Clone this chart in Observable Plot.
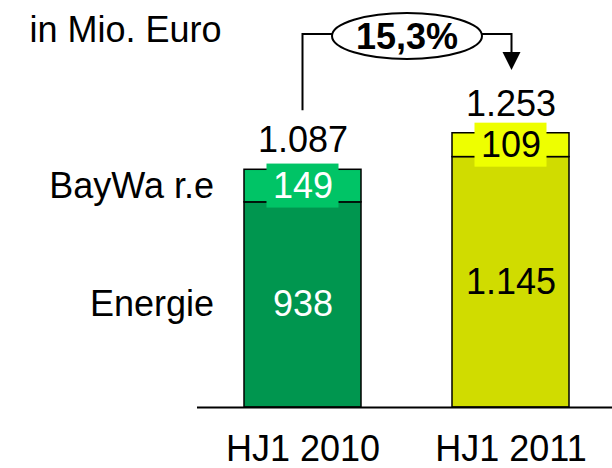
<!DOCTYPE html>
<html><head><meta charset="utf-8">
<script src="https://cdn.jsdelivr.net/npm/d3@7"></script>
<script src="https://cdn.jsdelivr.net/npm/@observablehq/plot@0.6"></script>
<style>
html,body{margin:0;padding:0;background:#fff;}
#chart{width:612px;height:468px;}
</style></head><body><div id="chart"></div>
<script>
const periods = ["HJ1 2010", "HJ1 2011"];
const segments = ["Energie", "BayWa r.e"];
const energie = [938, 1145];
const baywa = [149, 109];
const totals = [1087, 1253];
const unitLabel = "in Mio. Euro";
const growthLabel = "15,3%";

const palette = {
  "HJ1 2010": {"Energie": "#00964F", "BayWa r.e": "#00C466"},
  "HJ1 2011": {"Energie": "#D0DC00", "BayWa r.e": "#EEFF00"}
};
const textColor = {"HJ1 2010": "#ffffff", "HJ1 2011": "#000000"};
const FONT = "'Liberation Sans', Arial, Helvetica, sans-serif";
const fmt = d3.formatLocale({decimal: ",", thousands: ".", grouping: [3], currency: ["", "€"]}).format(",d");

const rows = [];
const labelRows = [];
periods.forEach((p, i) => {
  rows.push({period: p, segment: segments[0], value: energie[i]});
  rows.push({period: p, segment: segments[1], value: baywa[i]});
  labelRows.push({period: p, segment: segments[0], value: energie[i], mid: energie[i] / 2});
  labelRows.push({period: p, segment: segments[1], value: baywa[i], mid: energie[i] + baywa[i] / 2});
});
const totalRows = periods.map((p, i) => ({period: p, total: totals[i]}));

function bracket(index, scales, values, dims, context) {
  const x = scales.x, y = scales.y;
  const bw = typeof x.bandwidth === "function" ? x.bandwidth() : 0;
  const xa = x(periods[0]) + bw / 2, xb = x(periods[1]) + bw / 2 + 1;
  const ya = y(totals[0]) - 59, yb = y(totals[1]) - 63;
  const cx = (xa + xb) / 2, cy = 36, rx = 75, ry = 23;
  const g = d3.create("svg:g");
  g.append("path").attr("d", `M${xa},${ya}V${cy - 2}H${cx - rx}`)
    .attr("fill", "none").attr("stroke", "black").attr("stroke-width", 2);
  g.append("path").attr("d", `M${cx + rx},${cy - 2}H${xb}V${yb - 17}`)
    .attr("fill", "none").attr("stroke", "black").attr("stroke-width", 2);
  g.append("path").attr("d", `M${xb - 9},${yb - 18}L${xb + 9},${yb - 18}L${xb},${yb}Z`).attr("fill", "black");
  g.append("ellipse").attr("cx", cx).attr("cy", cy).attr("rx", rx).attr("ry", ry)
    .attr("fill", "white").attr("stroke", "black").attr("stroke-width", 2);
  g.append("text").attr("x", cx).attr("y", cy).attr("dy", "0.35em")
    .attr("text-anchor", "middle").attr("font-size", 36).attr("font-weight", "bold")
    .attr("font-family", FONT).attr("fill", "black").text(growthLabel);
  return g.node();
}

const chart = Plot.plot({
  width: 612,
  height: 468,
  marginLeft: 197,
  marginRight: 0,
  marginTop: 0,
  marginBottom: 61,
  style: {fontFamily: FONT, background: "white", overflow: "visible"},
  x: {domain: periods, range: [243, 570], paddingInner: 0.4354, paddingOuter: 0},
  y: {domain: [0, 1861], axis: null},
  marks: [
    Plot.barY(rows, Plot.stackY({x: "period", y: "value", fill: d => palette[d.period][d.segment], stroke: "black", strokeWidth: 1.5})),
    Plot.barY(labelRows.filter(d => d.segment === segments[1]), {
      x: "period", y1: "mid", y2: "mid",
      insetTop: -22, insetBottom: -22, insetLeft: 22.5, insetRight: 22.5,
      fill: d => palette[d.period][d.segment]
    }),
    Plot.text(labelRows, {x: "period", y: "mid", text: d => fmt(d.value), fill: d => textColor[d.period], fontSize: 36}),
    Plot.text(labelRows.filter(d => d.period === periods[0]), {x: "period", y: "mid", text: "segment", textAnchor: "end", dx: -89, fontSize: 36, fill: "black"}),
    Plot.text(totalRows, {x: "period", y: "total", text: d => fmt(d.total), dy: -29, fontSize: 36, fill: "black"}),
    Plot.text([unitLabel], {frameAnchor: "top-left", textAnchor: "start", lineAnchor: "top", dx: -168, dy: 16, fontSize: 36, fill: "black"}),
    Plot.ruleY([0], {stroke: "black", strokeWidth: 2}),
    Plot.axisX({tickSize: 0, tickPadding: 28, fontSize: 36, label: null, fill: "black"}),
    bracket
  ]
});
document.getElementById("chart").appendChild(chart);
</script>
</body></html>
